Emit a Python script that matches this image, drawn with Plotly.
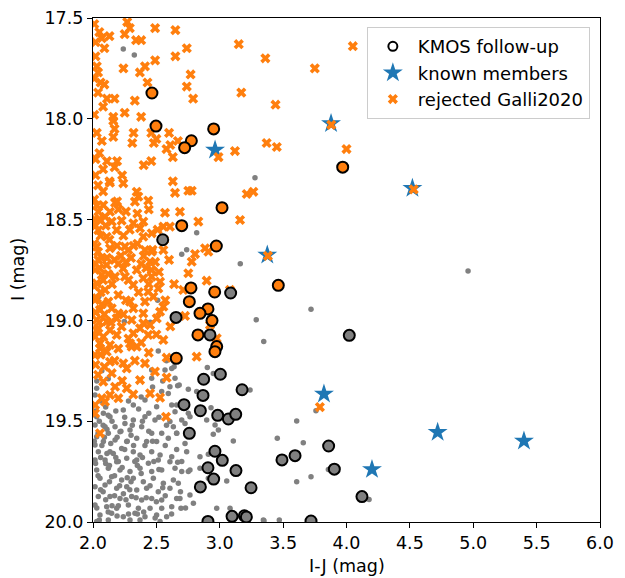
import plotly.graph_objects as go

# ---------------- data (I-J, I) ----------------
# all candidates (grey dots)
cand_ij = [
    2.515, 2.463, 2.568, 2.621, 2.463, 2.647, 2.607, 2.542, 2.594, 2.029, 2.016, 2.029, 2.082, 2.134, 2.239,
    2.318, 2.410, 2.502, 2.621, 2.647, 2.016, 2.095, 2.174, 2.252, 2.318, 2.410, 2.489, 2.607, 2.029, 2.121,
    2.213, 2.292, 2.384, 2.463, 2.542, 2.634, 2.016, 2.082, 2.174, 2.266, 2.345, 2.423, 2.502, 2.594, 2.660,
    2.042, 2.134, 2.226, 2.318, 2.371, 2.463, 2.529, 2.621, 2.016, 2.095, 2.187, 2.266, 2.345, 2.437, 2.515,
    2.607, 2.029, 2.121, 2.213, 2.292, 2.371, 2.463, 2.542, 2.647, 2.055, 2.147, 2.226, 2.318, 2.397, 2.476,
    2.555, 2.634, 2.016, 2.095, 2.187, 2.266, 2.345, 2.423, 2.515, 2.607, 2.042, 2.134, 2.213, 2.305, 2.384,
    2.463, 2.542, 2.660, 2.016, 2.108, 2.187, 2.279, 2.358, 2.450, 2.542, 2.621, 2.055, 2.147, 2.239, 2.331,
    2.410, 2.502, 2.581, 2.029, 2.121, 2.292, 2.371, 2.529,
    2.05, 2.11, 2.07, 2.16, 2.10, 2.04, 2.13, 2.08, 2.17, 2.03, 2.12, 2.20, 2.24, 2.27, 2.20, 2.25, 2.19,
    2.15, 2.25, 2.30, 2.33, 2.30, 2.34, 2.28, 2.40, 2.38, 2.41, 2.44, 2.48, 2.45, 2.50, 2.55, 2.57, 2.58,
    2.66, 2.70, 2.69, 2.73, 2.06, 2.10, 2.18, 2.28, 2.36, 2.44, 2.52, 2.03, 2.07, 2.12, 2.38, 2.47, 2.55,
    2.68, 2.64, 2.58,
    2.01, 2.06, 2.09, 2.14, 2.18, 2.23, 2.06, 2.10, 2.15, 2.19, 2.05, 2.13, 2.22, 2.27, 2.32, 2.35, 2.39,
    2.42, 2.35, 2.26, 2.21, 2.08, 2.12, 2.02, 2.04, 2.31, 2.39, 2.47, 2.52, 2.57, 2.62, 2.49, 2.29, 2.17,
    2.02, 2.11,
    2.902, 2.949, 2.668, 2.752, 2.818, 3.239, 2.660, 2.752, 2.765, 2.931, 2.897, 2.963, 2.989, 2.949, 2.700,
    2.726, 2.660, 3.107, 2.726, 2.739, 2.844, 2.910, 2.668, 2.765, 2.700, 2.844, 2.752, 2.910, 3.055, 2.673,
    2.765, 2.792, 2.686, 2.976, 3.081, 2.694, 3.344,
    4.959, 3.720, 3.347, 3.607, 3.454, 3.659, 3.857, 3.607, 3.720, 4.178, 3.349, 3.470, 3.278, 3.162, 2.818,
    2.700, 2.739, 3.288, 2.047, 2.510, 2.452, 2.247, 2.239, 2.326, 3.759,
]
cand_i = [
    19.152, 19.246, 19.246, 19.238, 19.287, 19.287, 19.329, 19.353, 19.362, 19.337, 19.370, 19.478, 19.461, 19.478, 19.444,
    19.420, 19.395, 19.428, 19.420, 19.453, 19.519, 19.527, 19.527, 19.511, 19.494, 19.478, 19.494, 19.502, 19.577, 19.560,
    19.552, 19.544, 19.527, 19.560, 19.560, 19.527, 19.618, 19.601, 19.593, 19.601, 19.585, 19.601, 19.601, 19.585, 19.560,
    19.651, 19.651, 19.635, 19.651, 19.668, 19.651, 19.668, 19.676, 19.692, 19.692, 19.701, 19.684, 19.692, 19.709, 19.692,
    19.701, 19.742, 19.734, 19.742, 19.750, 19.734, 19.750, 19.742, 19.734, 19.783, 19.775, 19.792, 19.783, 19.800, 19.783,
    19.808, 19.792, 19.825, 19.816, 19.833, 19.825, 19.841, 19.833, 19.850, 19.833, 19.874, 19.874, 19.883, 19.874, 19.891,
    19.883, 19.891, 19.883, 19.916, 19.924, 19.932, 19.916, 19.932, 19.932, 19.932, 19.924, 19.965, 19.957, 19.974, 19.957,
    19.974, 19.965, 19.974, 19.998, 19.990, 19.990, 19.990, 19.998,
    19.50, 19.54, 19.62, 19.66, 19.71, 19.77, 19.80, 19.85, 19.87, 19.93, 19.95, 19.92, 19.86, 19.78, 19.70, 19.64, 19.58,
    19.50, 19.48, 19.57, 19.70, 19.80, 19.88, 19.96, 19.95, 19.76, 19.62, 19.55, 19.70, 19.82, 19.90, 19.83, 19.62, 19.52,
    19.64, 19.70, 19.85, 19.93, 19.40, 19.43, 19.45, 19.40, 19.44, 19.46, 19.48, 19.30, 19.25, 19.29, 19.38, 19.33, 19.30,
    19.32, 19.23, 19.20,
    19.60, 19.68, 19.58, 19.61, 19.68, 19.73, 19.84, 19.89, 19.92, 19.97, 19.99, 19.72, 19.55, 19.60, 19.62, 19.72, 19.68,
    19.88, 19.96, 19.89, 19.82, 19.52, 19.47, 19.45, 19.56, 19.52, 19.50, 19.60, 19.74, 19.87, 19.96, 19.98, 19.84, 19.77,
    19.71, 19.66,
    19.234, 19.263, 19.324, 19.342, 19.353, 19.345, 19.420, 19.461, 19.478, 19.433, 19.494, 19.519, 19.544, 19.565, 19.494,
    19.511, 19.560, 19.598, 19.610, 19.651, 19.676, 19.664, 19.704, 19.742, 19.750, 19.734, 19.750, 19.783, 19.797, 19.808,
    19.866, 19.907, 19.883, 19.932, 19.932, 19.932, 19.990,
    18.755, 18.945, 19.105, 19.499, 19.585, 19.607, 19.739, 19.800, 19.775, 19.888, 19.994, 19.990, 18.292, 18.719, 18.565,
    18.672, 18.649, 18.997, 18.882, 18.900, 19.009, 19.006, 17.654, 17.684, 19.448,
]

# rejected by Galli2020 (orange crosses)
rej_ij = [
    2.27, 2.29, 2.49, 2.65, 2.25, 2.07, 2.13, 2.34, 2.38, 2.09, 2.74, 3.15, 2.02, 2.49, 2.65, 3.36, 2.03, 2.41,
    2.24, 2.37, 2.04, 2.77, 2.06, 2.09, 2.43, 2.74, 3.17, 2.11, 2.17, 2.33, 2.79, 2.08, 2.25, 2.16, 2.38, 2.16,
    2.17, 2.32, 2.46, 2.60, 2.16, 2.07, 2.31, 2.48, 2.50, 2.67, 2.61, 2.58, 2.63, 3.12, 3.37, 2.02, 2.11, 2.19,
    2.17, 2.08, 2.46, 2.40, 2.23, 2.13, 2.63,
    4.05, 3.75, 3.44, 3.45, 4.00, 2.99, 3.88, 4.53, 3.38, 3.79,
    2.134, 2.239, 2.345, 2.357, 2.436, 2.331, 2.647, 2.752, 2.779, 3.213, 3.265, 2.081, 2.174, 2.042, 2.134,
    2.200, 2.016, 2.095, 2.148, 2.226, 2.318, 2.397, 2.568, 2.686, 2.831, 3.160, 2.042, 2.187, 2.108, 2.371,
    2.463, 2.555, 2.607, 2.397, 2.252, 2.278, 2.134, 2.029, 2.410, 2.463, 2.555, 2.805, 2.884, 2.910, 2.779,
    2.042, 2.108, 2.239, 2.345, 2.450, 2.463, 2.016, 2.069, 2.174, 2.252, 2.397, 2.463, 2.752, 2.029, 2.318,
    2.529, 2.897, 2.712, 2.095, 2.200, 2.436, 2.515, 3.081, 2.016, 2.121, 2.292, 2.410, 2.476, 2.555, 2.055,
    2.148, 2.200, 2.318, 2.397, 2.529, 2.726, 2.029, 2.108, 2.187, 2.305, 2.397, 2.503, 2.042, 2.134, 2.226,
    2.371, 2.450, 2.923, 2.016, 2.081, 2.187, 2.318, 2.436, 2.555, 2.055, 2.134, 2.292, 2.345, 2.976,
    2.055, 2.108, 2.016, 2.305, 2.581, 2.818, 2.134, 2.239, 2.266, 2.410, 2.489, 2.581, 2.371, 2.148, 2.081,
    2.174, 2.266, 2.318, 2.450, 2.529, 2.134, 2.200, 2.069, 2.016, 2.095, 2.016, 2.576, 2.055,
    2.01, 2.03, 2.02, 2.06, 2.01, 2.04, 2.07, 2.02, 2.05, 2.08, 2.01, 2.06, 2.03, 2.07, 2.02, 2.05, 2.03, 2.06,
    2.02, 2.04, 2.09, 2.11, 2.12, 2.13, 2.10, 2.15, 2.09, 2.14, 2.17, 2.19, 2.20, 2.22, 2.26, 2.28, 2.30, 2.32,
    2.35, 2.38, 2.40, 2.42, 2.44, 2.47, 2.49, 2.52, 2.36, 2.26, 2.24, 2.28, 2.38, 2.44, 2.20, 2.17, 2.05, 2.08,
    2.04, 2.02, 2.05, 2.03, 2.01, 2.04, 2.01, 2.02, 2.01, 2.05, 2.19, 2.26, 2.29, 2.24, 2.35, 2.44, 2.51, 2.56,
    2.60, 2.57, 2.64, 2.61, 2.50, 2.33, 2.23,
]
rej_i = [
    17.52, 17.55, 17.55, 17.56, 17.58, 17.60, 17.59, 17.61, 17.61, 17.65, 17.65, 17.63, 17.69, 17.71, 17.69, 17.70, 17.74, 17.74,
    17.75, 17.77, 17.77, 17.78, 17.82, 17.83, 17.82, 17.84, 17.87, 17.90, 17.90, 17.91, 17.90, 17.94, 17.97, 17.99, 17.99, 18.01,
    18.05, 18.07, 18.07, 18.07, 18.09, 18.11, 18.12, 18.12, 18.10, 18.11, 18.13, 18.15, 18.19, 18.16, 18.12, 18.20, 18.21, 18.21,
    18.24, 18.25, 18.21, 18.23, 18.28, 18.31, 18.31,
    17.64, 17.75, 17.93, 18.14, 18.15, 18.19, 18.03, 18.35, 18.68, 19.43,
    18.317, 18.320, 18.362, 18.386, 18.406, 18.411, 18.367, 18.357, 18.357, 18.373, 18.362, 18.428, 18.416, 18.461, 18.461,
    18.449, 18.499, 18.486, 18.510, 18.505, 18.518, 18.510, 18.466, 18.461, 18.510, 18.502, 18.552, 18.552, 18.585, 18.543,
    18.568, 18.535, 18.535, 18.585, 18.634, 18.651, 18.642, 18.634, 18.651, 18.659, 18.651, 18.671, 18.642, 18.659, 18.709,
    18.700, 18.725, 18.742, 18.750, 18.709, 18.750, 18.750, 18.775, 18.783, 18.783, 18.791, 18.783, 18.766, 18.816, 18.824,
    18.808, 18.803, 18.849, 18.849, 18.874, 18.858, 18.841, 18.849, 18.899, 18.907, 18.907, 18.907, 18.882, 18.932, 18.948,
    18.940, 18.965, 18.940, 18.965, 18.957, 18.978, 18.998, 19.006, 18.990, 18.998, 19.014, 18.990, 19.039, 19.048, 19.031,
    19.039, 19.023, 19.023, 19.081, 19.081, 19.072, 19.064, 19.072, 19.097, 19.114, 19.122, 19.114, 19.130, 19.089,
    19.138, 19.155, 19.172, 19.130, 19.185, 19.180, 19.205, 19.213, 19.238, 19.213, 19.254, 19.284, 19.296, 19.262, 19.304,
    19.329, 19.337, 19.367, 19.362, 19.383, 19.370, 19.386, 19.386, 19.420, 19.403, 19.461, 19.478, 19.560,
    18.40, 18.43, 18.53, 18.58, 18.62, 18.66, 18.69, 18.72, 18.74, 18.80, 18.83, 18.86, 18.89, 18.92, 18.96, 19.01, 19.05, 19.17,
    19.22, 19.27, 19.23, 18.69, 18.77, 18.60, 18.53, 18.82, 18.97, 19.01, 18.70, 18.63, 18.72, 18.68, 18.71, 18.80, 18.69, 18.63,
    18.62, 18.72, 18.68, 18.74, 18.82, 18.65, 18.71, 18.76, 18.86, 18.90, 18.97, 19.09, 19.11, 19.16, 19.14, 19.20, 18.50, 18.36,
    18.33, 18.28, 18.17, 18.07, 17.98, 17.87, 17.80, 17.62, 17.53, 17.57, 18.41, 18.46, 18.55, 18.58, 18.47, 18.45, 18.55, 18.60,
    18.70, 18.90, 18.82, 19.03, 19.07, 19.20, 19.30,
]

# KMOS follow-up targets; status "r" = rejected (orange fill), "c" = other (grey fill)
kmos_ij = [
    2.465, 2.497, 2.952, 2.776, 2.723, 3.018, 2.700, 2.973, 2.773, 2.960, 2.760, 2.907, 2.844, 2.939, 2.828,
    2.976, 2.962, 2.657, 3.462, 3.970,
    2.550, 3.086, 2.655, 2.923, 3.005, 2.873, 3.176, 2.868, 2.718, 2.847, 2.984, 3.068, 3.126, 2.760, 2.962,
    3.020, 2.907, 3.128, 2.952, 2.847, 3.247, 3.097, 3.194, 3.210, 2.907, 4.022, 3.859, 3.491, 3.594, 3.904,
    4.122, 3.720,
]
kmos_i = [
    17.872, 18.036, 18.050, 18.109, 18.143, 18.441, 18.530, 18.631, 18.839, 18.859, 18.907, 18.943, 18.965, 19.001, 19.072,
    19.130, 19.155, 19.188, 18.826, 18.240,
    18.600, 18.864, 18.985, 19.072, 19.267, 19.292, 19.344, 19.372, 19.418, 19.448, 19.471, 19.489, 19.466, 19.560, 19.649,
    19.694, 19.731, 19.745, 19.787, 19.826, 19.830, 19.972, 19.969, 19.975, 19.997, 19.074, 19.623, 19.692, 19.671, 19.738,
    19.874, 19.995,
]
kmos_status = ["r"] * 20 + ["c"] * 32

# known members (blue stars)
mem_ij = [2.963, 3.878, 4.520, 3.375, 3.822, 4.719, 4.201, 5.400]
mem_i = [18.155, 18.023, 18.345, 18.676, 19.365, 19.555, 19.739, 19.598]

x_ticks = [2.0, 2.5, 3.0, 3.5, 4.0, 4.5, 5.0, 5.5, 6.0]
y_ticks = [17.5, 18.0, 18.5, 19.0, 19.5, 20.0]

GREY = "#808080"
ORANGE = "#ff7f0e"
BLUE = "#1f77b4"
FONT = "DejaVu Sans"
FS = 17.5

fig = go.Figure()

fig.add_trace(go.Scatter(
    x=cand_ij, y=cand_i, mode="markers", showlegend=False, hoverinfo="skip",
    marker=dict(symbol="circle", size=5.5, color=GREY, line=dict(width=0)),
))
fig.add_trace(go.Scatter(
    x=mem_ij, y=mem_i, mode="markers", name="known members", legendrank=2,
    marker=dict(symbol="star", size=15, color=BLUE, line=dict(width=0)),
))
fig.add_trace(go.Scatter(
    x=rej_ij, y=rej_i, mode="markers", name="rejected Galli2020", legendrank=3,
    marker=dict(symbol="x", size=9, color=ORANGE, line=dict(width=0)),
))
fig.add_trace(go.Scatter(
    x=kmos_ij, y=kmos_i, mode="markers", showlegend=False, hoverinfo="skip",
    marker=dict(symbol="circle", size=11,
                color=[ORANGE if s == "r" else GREY for s in kmos_status],
                line=dict(width=2, color="black")),
))
fig.add_trace(go.Scatter(
    x=[None], y=[None], mode="markers", name="KMOS follow-up", legendrank=1,
    marker=dict(symbol="circle-open", size=9, color="black", line=dict(width=2, color="black")),
))

axis_common = dict(
    showline=True, linecolor="black", linewidth=1.2, mirror=True,
    ticks="outside", ticklen=5, tickwidth=1.2, tickcolor="black",
    showgrid=False, zeroline=False, automargin=False,
    tickfont=dict(family=FONT, size=FS, color="black"),
)

fig.update_layout(
    width=625, height=578,
    margin=dict(l=93, r=25, t=18, b=56),
    paper_bgcolor="white", plot_bgcolor="white",
    font=dict(family=FONT, size=FS, color="black"),
    xaxis=dict(range=[2.0, 6.0], tickvals=x_ticks, ticktext=[f"{v:.1f}" for v in x_ticks], **axis_common),
    yaxis=dict(range=[20.0, 17.5], tickvals=y_ticks, ticktext=[f"{v:.1f}" for v in y_ticks], **axis_common),
    legend=dict(x=0.98, y=0.982, xanchor="right", yanchor="top",
                bgcolor="rgba(255,255,255,0.8)", bordercolor="#cccccc", borderwidth=1,
                font=dict(family=FONT, size=18, color="black"),
                itemsizing="trace", itemwidth=40, tracegroupgap=2),
    annotations=[
        dict(text="I-J (mag)", xref="paper", yref="paper", x=0.5, y=0, xanchor="center",
             yanchor="middle", yshift=-44, showarrow=False, font=dict(family=FONT, size=FS)),
        dict(text="I (mag)", xref="paper", yref="paper", x=0, y=0.5, xanchor="center",
             yanchor="middle", xshift=-75, textangle=-90, showarrow=False, font=dict(family=FONT, size=FS)),
    ],
)

fig.write_html("out.html")
